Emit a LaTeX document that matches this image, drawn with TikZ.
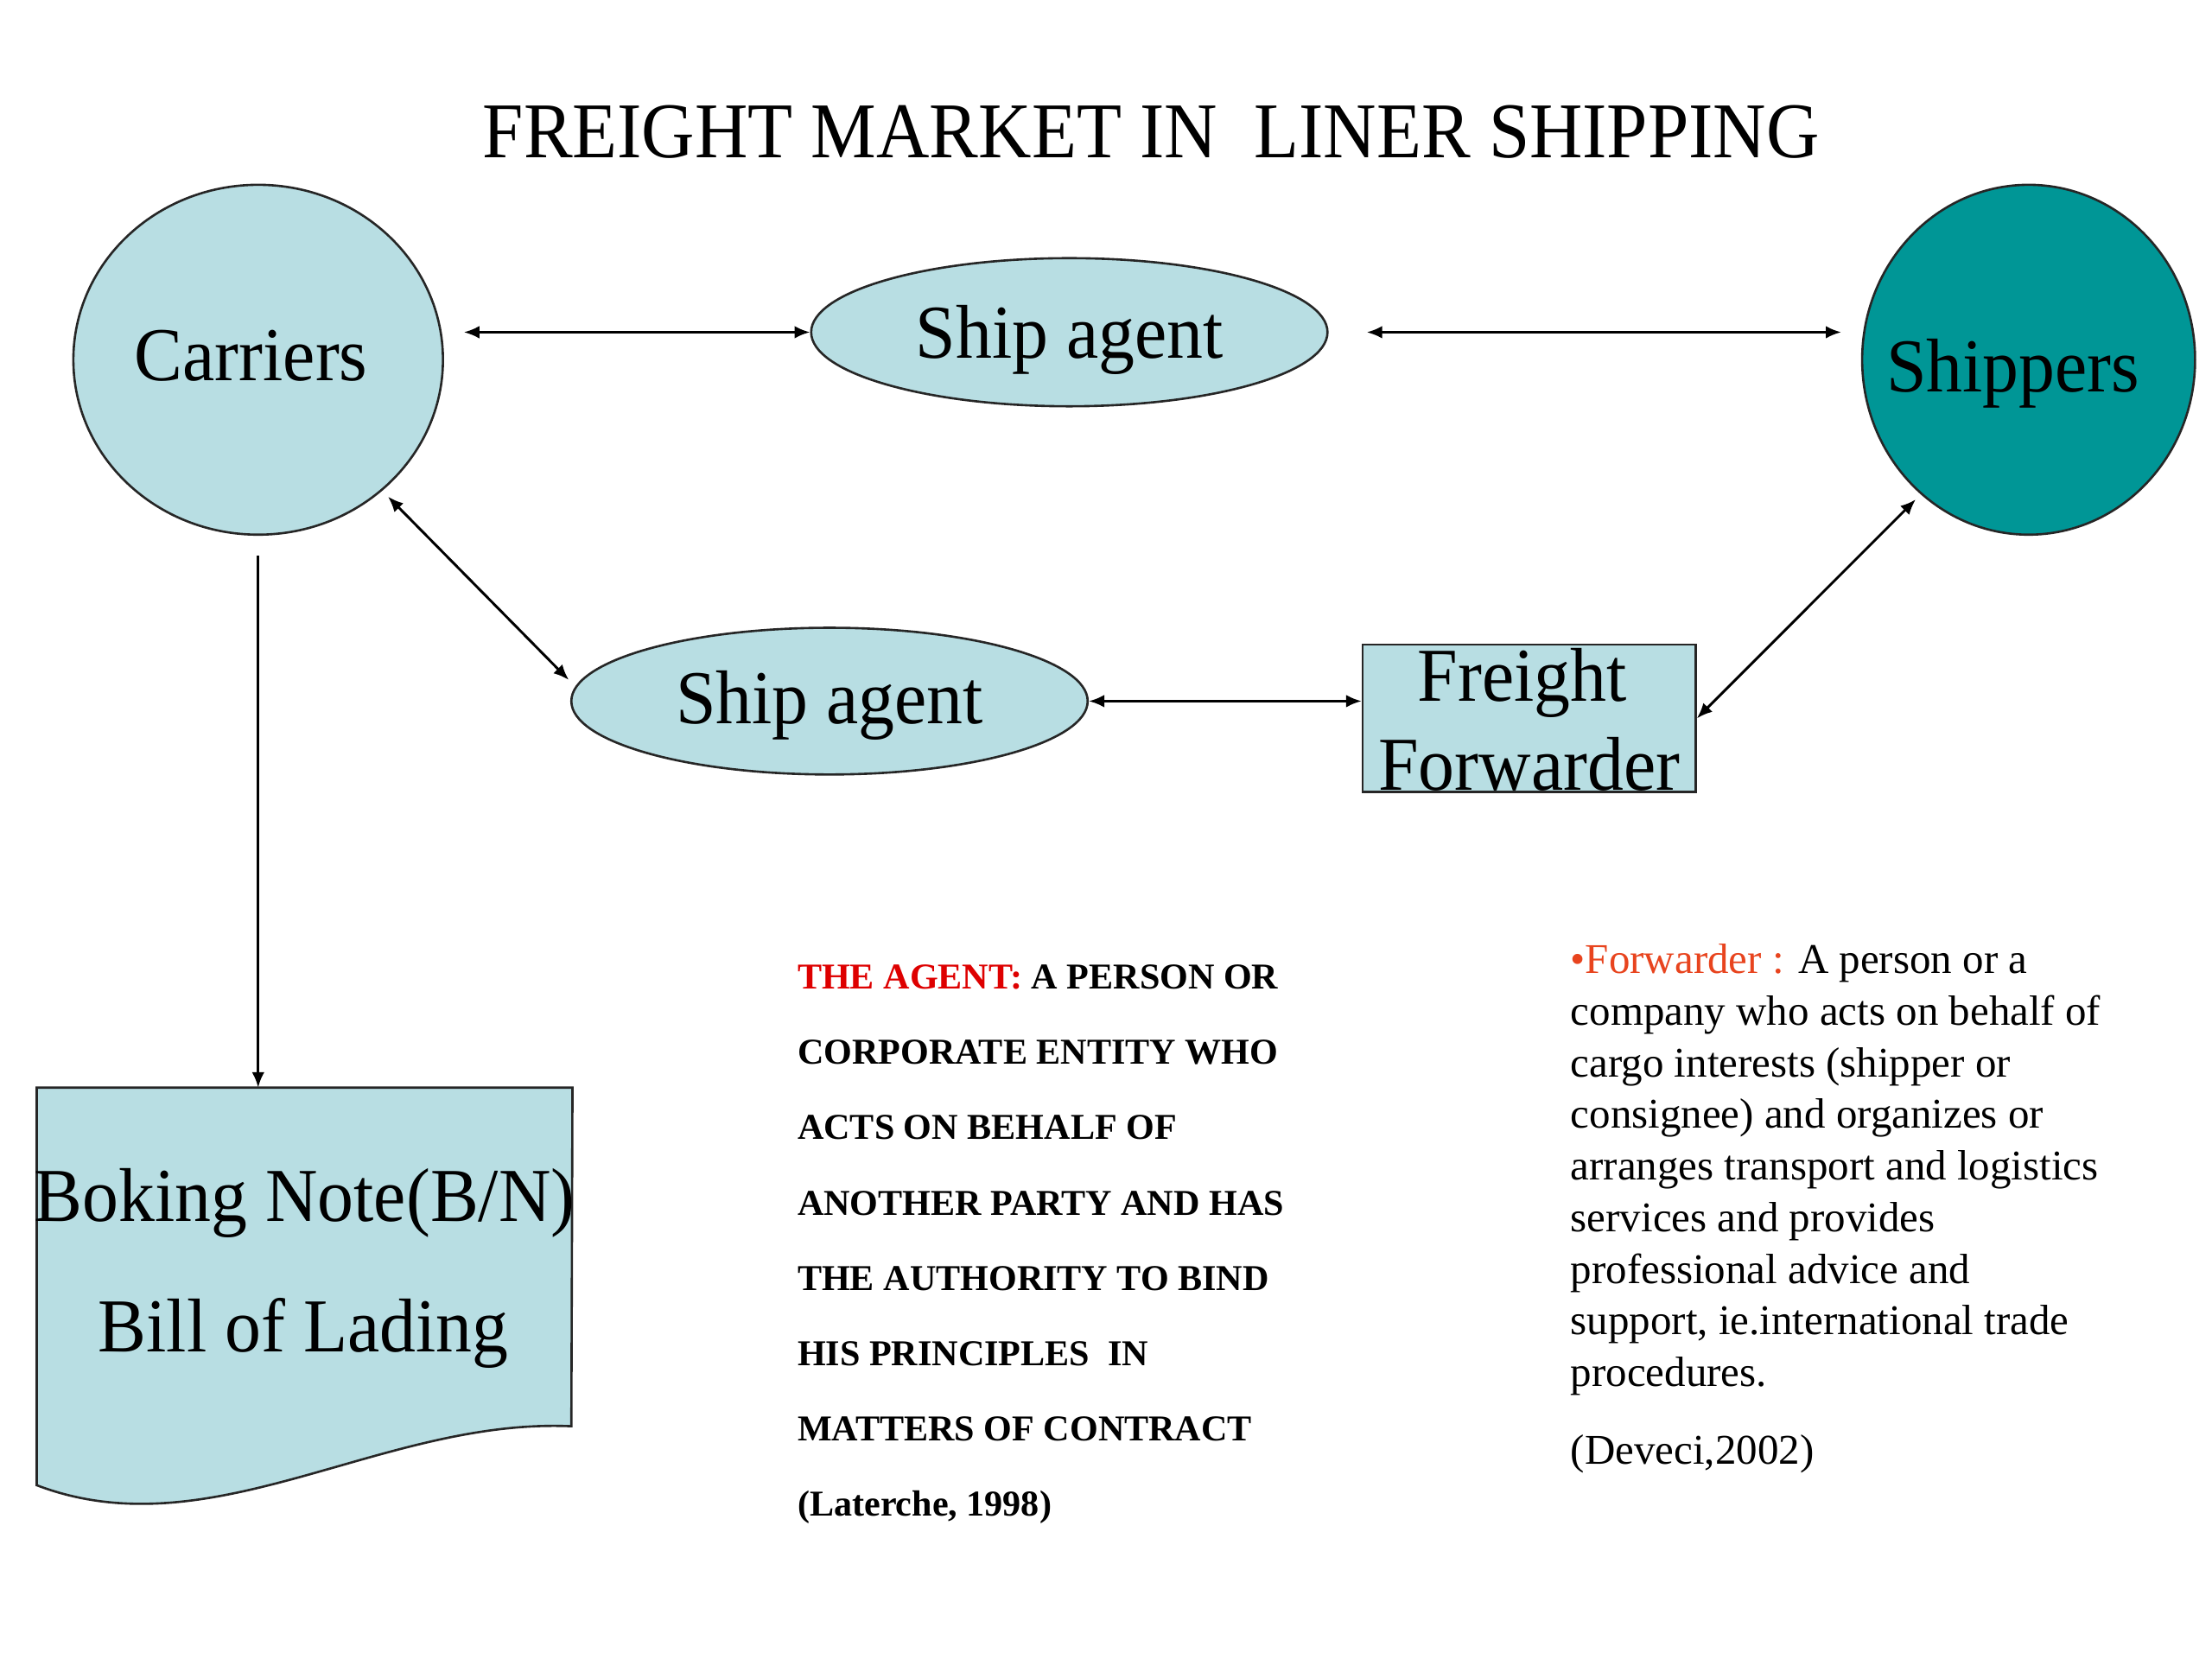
\documentclass[tikz,border=0pt]{standalone}
\usepackage{fontspec}
\setmainfont{Liberation Serif}
\newfontfamily\labfont[FakeStretch=0.95]{Liberation Serif}
\newfontfamily\titlefont[FakeStretch=0.93]{Liberation Serif}
\usetikzlibrary{arrows.meta,calc,shapes.geometric}
\definecolor{lightfill}{RGB}{184,222,227}
\definecolor{tealfill}{RGB}{0,150,150}
\definecolor{agentred}{RGB}{222,0,0}
\definecolor{fwdorange}{RGB}{232,68,30}
\begin{document}
\begin{tikzpicture}[x=0.5pt,y=-0.5pt,
  shapeout/.style={draw=black!85, line width=0.8pt},
  lab/.style={font=\labfont\fontsize{27}{27}\selectfont, anchor=base, inner sep=0pt},
  agentline/.style={font=\bfseries\fontsize{12.9}{13}\selectfont, anchor=base west, inner sep=0pt},
  fwdline/.style={font=\fontsize{15}{15}\selectfont, anchor=base west, inner sep=0pt},
  biarrow/.style={{Latex[length=5.5pt,width=4.5pt]}-{Latex[length=5.5pt,width=4.5pt]}, line width=0.9pt},
  onearrow/.style={-{Latex[length=5.5pt,width=4.5pt]}, line width=0.9pt}
]
\path[fill=white,use as bounding box] (0,0) rectangle (1568,1176);

% title
\node[font=\titlefont\fontsize{28}{28}\selectfont, anchor=base, inner sep=0pt] (title) at (816,112) {FREIGHT MARKET IN\ \ LINER SHIPPING};

% shapes
\node[ellipse, shapeout, fill=lightfill, minimum width=131pt, minimum height=124pt, inner sep=0pt] (car) at (183,255) {};
\node[ellipse, shapeout, fill=lightfill, minimum width=183pt, minimum height=52.5pt, inner sep=0pt] (sa1) at (758,235.5) {};
\node[ellipse, shapeout, fill=tealfill, minimum width=118pt, minimum height=124pt, inner sep=0pt] (shp) at (1438,255) {};
\node[ellipse, shapeout, fill=lightfill, minimum width=183pt, minimum height=52pt, inner sep=0pt] (sa2) at (588,497) {};
\node[rectangle, shapeout, fill=lightfill, minimum width=118pt, minimum height=52.25pt, inner sep=0pt] (ff) at (1084,509.25) {};
\node[rectangle, inner sep=0pt, minimum width=189.5pt, minimum height=140.5pt, anchor=north west] (bk) at (26,771) {};
\path[shapeout, fill=lightfill] (bk.north west) -- (bk.north east) -- (405,1011)
   .. controls (270,1005) and (150,1100) .. (bk.south west) -- cycle;

% labels
\node[lab] (carT) at ($(car.center)+(-5,15)$) {Carriers};
\node[lab] (sa1T) at ($(sa1.center)+(0,18.5)$) {Ship agent};
\node[lab] (shpT) at ($(shp.center)+(-11,23)$) {Shippers};
\node[lab] (sa2T) at ($(sa2.center)+(0,16)$) {Ship agent};
\node[lab] (ffT1) at ($(ff.center)+(-5,-12.25)$) {Freight};
\node[lab] (ffT2) at ($(ff.center)+(0,50.75)$) {Forwarder};
\node[lab] (bkT1) at (216,866) {Boking Note(B/N)};
\node[lab] (bkT2) at (215,958) {Bill of Lading};

% connectors
\draw[biarrow] ($(car.east |- sa1.west)+(14,0)$) -- (sa1.west);
\draw[biarrow] ($(sa1.east)+(27,0)$) -- ($(shp.west |- sa1.east)+(-14,0)$);
\draw[biarrow] ($(car.center)+(92,97)$) -- ($(sa2.west)+(-1,-15)$);
\draw[biarrow] (sa2.east) -- (sa2.east -| ff.west);
\draw[biarrow] (ff.east) -- ($(shp.center)+(-80,99)$);
\draw[onearrow] ($(car.south)+(0,14)$) -- (car.south |- bk.north);

% agent definition
\foreach \i/\t in {0/{\textcolor{agentred}{THE AGENT:} A PERSON OR},
                   1/{CORPORATE ENTITY WHO},
                   2/{ACTS ON BEHALF OF},
                   3/{ANOTHER PARTY AND HAS},
                   4/{THE AUTHORITY TO BIND},
                   5/{HIS PRINCIPLES\ \ IN},
                   6/{MATTERS OF CONTRACT},
                   7/{(Laterche, 1998)}}
  \node[agentline] (ag\i) at (565,{701+53.4*\i}) {\t};

% forwarder definition
\foreach \i/\t in {0/{\textcolor{fwdorange}{•Forwarder :} A person or a},
                   1/{company who acts on behalf of},
                   2/{cargo interests (shipper or},
                   3/{consignee) and organizes or},
                   4/{arranges transport and logistics},
                   5/{services and provides},
                   6/{professional advice and},
                   7/{support, ie.international trade},
                   8/{procedures.}}
  \node[fwdline] (fw\i) at (1113,{690+36.6*\i}) {\t};
\node[fwdline] (dev) at (1113,1038) {(Deveci,2002)};
\end{tikzpicture}
\end{document}
